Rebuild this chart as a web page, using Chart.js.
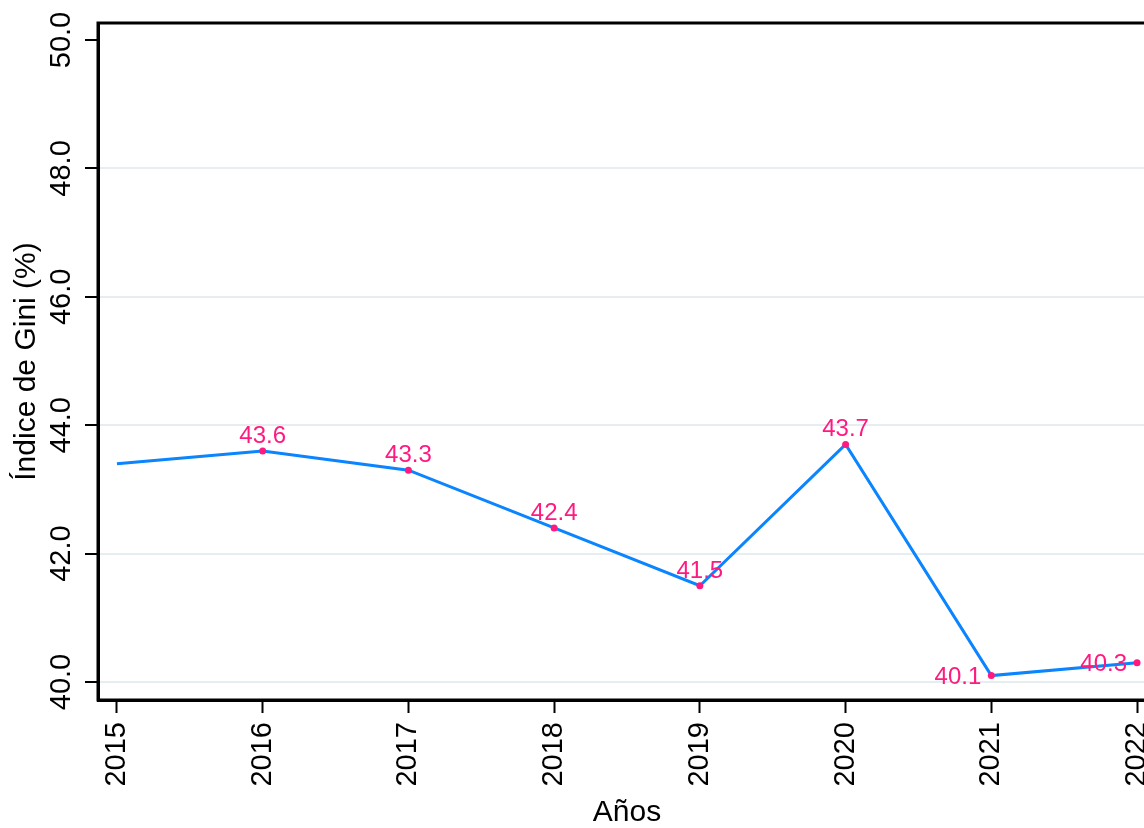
<!DOCTYPE html>
<html>
<head>
<meta charset="utf-8">
<script src="https://cdn.jsdelivr.net/npm/chart.js@4"></script>
<style>
  html, body { margin: 0; padding: 0; background: #fff; overflow: hidden; }
  #wrap { width: 1170px; height: 828px; }
</style>
</head>
<body>
<div id="wrap"><canvas id="gini" width="1170" height="828"></canvas></div>
<script>
// Gini index by year
const years = [2015, 2016, 2017, 2018, 2019, 2020, 2021, 2022]
const gini = [43.4, 43.6, 43.3, 42.4, 41.5, 43.7, 40.1, 40.3]
const yTicks = [40, 42, 44, 46, 48, 50]
// where each value label goes (null = no marker, no label)
const labelPos = [null, 'top', 'top', 'top', 'top', 'top', 'left', 'left']

const FONT = '"Liberation Sans", Arial, Helvetica, sans-serif'
const LINE = '#0a84ff'
const PINK = '#ff1a80'

// box around the plot area
const frame = {
    id: 'frame',
    beforeDatasetsDraw(chart) {
        const a = chart.chartArea
        const ctx = chart.ctx
        ctx.save()
        ctx.strokeStyle = '#000'
        ctx.lineWidth = 3
        ctx.strokeRect(a.left, a.top, a.right - a.left, a.bottom - a.top)
        ctx.restore()
    }
}

// value labels next to the markers
const valueLabels = {
    id: 'valueLabels',
    afterDatasetsDraw(chart) {
        const ctx = chart.ctx
        const pts = chart.getDatasetMeta(0).data
        ctx.save()
        ctx.font = '24px ' + FONT
        ctx.fillStyle = PINK
        ctx.textBaseline = 'alphabetic'
        pts.forEach((p, i) => {
            const pos = labelPos[i]
            if (!pos) return
            const txt = gini[i].toFixed(1)
            if (pos == 'top') {
                ctx.textAlign = 'center'
                ctx.fillText(txt, p.x, p.y - 8)
            } else {
                ctx.textAlign = 'right'
                ctx.fillText(txt, p.x - 10, p.y + 8.5)
            }
        })
        ctx.restore()
    }
}

const data = {
    labels: years,
    datasets: [{
        data: years.map((y, i) => ({ x: y, y: gini[i] })),
        borderColor: LINE,
        borderWidth: 3,
        tension: 0,
        pointRadius: ctx => labelPos[ctx.dataIndex] ? 3.5 : 0,
        pointHoverRadius: 0,
        pointBackgroundColor: PINK,
        pointBorderWidth: 0
    }]
}

const config = {
    type: 'line',
    data: data,
    options: {
        responsive: false,
        animation: false,
        events: [],
        layout: { padding: { top: 23, right: 14, left: 0, bottom: 0 } },
        plugins: {
            legend: { display: false },
            tooltip: { enabled: false }
        },
        scales: {
            x: {
                type: 'linear',
                min: 2014.87,
                max: 2022.13,
                afterBuildTicks: s => { s.ticks = years.map(v => ({ value: v })) },
                afterFit: s => {
                    s.height = 128
                    s.paddingLeft = 0
                    s.paddingRight = 0
                },
                grid: {
                    drawOnChartArea: false,
                    tickLength: 13,
                    tickColor: '#000',
                    tickWidth: 2
                },
                border: { display: true, color: '#000', width: 3 },
                ticks: {
                    minRotation: 90,
                    maxRotation: 90,
                    padding: 9,
                    color: '#000',
                    font: { family: FONT, size: 29 },
                    callback: v => String(v)
                },
                title: {
                    display: true,
                    text: 'Años',
                    color: '#000',
                    font: { family: FONT, size: 30, lineHeight: 1 },
                    padding: 0
                }
            },
            y: {
                min: 39.72,
                max: 50.265,
                afterBuildTicks: s => { s.ticks = yTicks.map(v => ({ value: v })) },
                afterFit: s => {
                    s.width = 98
                    s.paddingTop = 0
                    s.paddingBottom = 0
                },
                grid: {
                    color: c => c.tick && c.tick.value == yTicks[yTicks.length - 1] ? 'rgba(0,0,0,0)' : '#e6eef1',
                    lineWidth: 2,
                    tickLength: 13,
                    tickColor: '#000',
                    tickWidth: 2
                },
                border: { display: true, color: '#000', width: 3 },
                ticks: {
                    minRotation: 90,
                    maxRotation: 90,
                    crossAlign: 'center',
                    padding: -5,
                    color: '#000',
                    font: { family: FONT, size: 29 },
                    callback: v => v.toFixed(1)
                },
                title: {
                    display: true,
                    text: 'Índice de Gini (%)',
                    color: '#000',
                    font: { family: FONT, size: 30, lineHeight: 1.2 },
                    padding: { top: 9, bottom: 0 }
                }
            }
        }
    },
    plugins: [frame, valueLabels]
}

const myChart = new Chart(document.getElementById('gini'), config)
</script>
</body>
</html>
